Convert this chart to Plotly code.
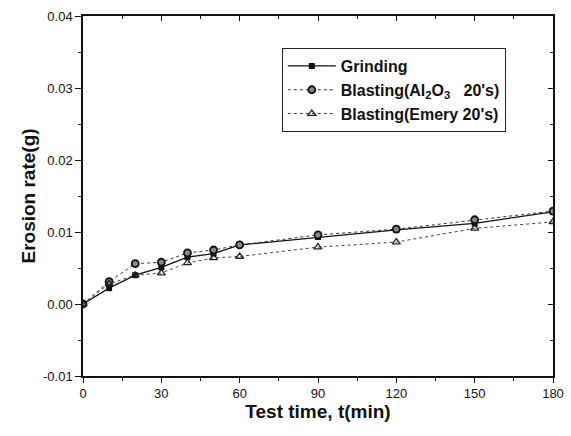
import plotly.graph_objects as go

time_min = [0, 10, 20, 30, 40, 50, 60, 90, 120, 150, 180]
grinding = [0.0, 0.0022, 0.0040, 0.0051, 0.0065, 0.0070, 0.0082, 0.0093, 0.0103, 0.0112, 0.0128]
blasting_al2o3 = [0.0, 0.0031, 0.0056, 0.0058, 0.0071, 0.0075, 0.0082, 0.0096, 0.0104, 0.0117, 0.0129]
blasting_emery = [0.0, 0.0028, 0.0040, 0.0043, 0.0057, 0.0064, 0.0066, 0.0079, 0.0086, 0.0105, 0.0114]

x_ticks = [0, 30, 60, 90, 120, 150, 180]
y_ticks = [-0.01, 0.00, 0.01, 0.02, 0.03, 0.04]
y_labels = ["-0.01", "0.00", "0.01", "0.02", "0.03", "0.04"]

fig = go.Figure()
fig.add_trace(go.Scatter(
    x=time_min, y=grinding, name="Grinding", mode="lines+markers",
    line=dict(color="#111111", width=1.3),
    marker=dict(symbol="square", size=6, color="#111111"),
))
fig.add_trace(go.Scatter(
    x=time_min, y=blasting_al2o3, name="Blasting(Al<sub>2</sub>O<sub>3</sub>   20's)",
    mode="lines+markers",
    line=dict(color="#333333", width=1, dash="dot"),
    marker=dict(symbol="circle", size=7, color="#8a8a8a", line=dict(color="#111111", width=1.8)),
))
fig.add_trace(go.Scatter(
    x=time_min, y=blasting_emery, name="Blasting(Emery 20's)", mode="lines+markers",
    line=dict(color="#444444", width=1, dash="dot"),
    marker=dict(symbol="triangle-up-open", size=7, color="#222222", line=dict(width=1.3)),
))

# invisible trace to carry the mirrored top/right axes
fig.add_trace(go.Scatter(x=[0], y=[0], xaxis="x2", yaxis="y2", mode="markers",
                         marker=dict(opacity=0), showlegend=False, hoverinfo="skip"))

axis_font = dict(family="Liberation Sans, Arial", size=13, color="#111111")
title_font = dict(family="Liberation Sans, Arial", size=19, color="#111111")

fig.update_layout(
    width=571, height=436,
    margin=dict(l=83, r=18, t=16, b=60, autoexpand=False),
    paper_bgcolor="white", plot_bgcolor="white",
    font=axis_font,
    xaxis=dict(
        range=[0, 180], tickvals=x_ticks, showgrid=False, zeroline=False,
        showline=True, linecolor="#111111", linewidth=1.5,
        ticks="outside", ticklen=5, tickwidth=1.2, tickcolor="#111111",
        minor=dict(dtick=15, ticks="outside", ticklen=3, tickcolor="#111111"),
        title=dict(text="<b>Test time, t(min)</b>", font=title_font, standoff=4),
        tickfont=axis_font, automargin=False,
    ),
    yaxis=dict(
        range=[-0.01, 0.04], tickvals=y_ticks, ticktext=y_labels, showgrid=False, zeroline=False,
        showline=True, linecolor="#111111", linewidth=1.5,
        ticks="outside", ticklen=6, tickwidth=1.2, tickcolor="#111111",
        minor=dict(dtick=0.005, ticks="outside", ticklen=3, tickcolor="#111111"),
        title=dict(text="<b>Erosion rate(g)</b>", font=title_font, standoff=2),
        tickfont=axis_font, automargin=False,
    ),
    xaxis2=dict(
        overlaying="x", side="top", range=[0, 180], tickvals=x_ticks, showticklabels=False,
        showgrid=False, zeroline=False, showline=True, linecolor="#111111", linewidth=1.5,
        ticks="inside", ticklen=5, tickcolor="#111111",
        minor=dict(dtick=15, ticks="inside", ticklen=3, tickcolor="#111111"),
    ),
    yaxis2=dict(
        overlaying="y", side="right", anchor="x2", range=[-0.01, 0.04], tickvals=y_ticks,
        showticklabels=False, showgrid=False, zeroline=False, showline=True,
        linecolor="#111111", linewidth=1.5,
        ticks="inside", ticklen=5, tickcolor="#111111",
        minor=dict(dtick=0.005, ticks="inside", ticklen=3, tickcolor="#111111"),
    ),
    legend=dict(
        x=0.423, y=0.911, xanchor="left", yanchor="top",
        bgcolor="white", bordercolor="#222222", borderwidth=1,
        font=dict(family="Liberation Sans, Arial", size=16, color="#111111", weight="bold"),
        tracegroupgap=0, itemwidth=48,
    ),
)

# page body has a default 8px margin; drop it so the figure sits at the window corner
fig.write_html("out.html", config={"displayModeBar": False},
               post_script="document.body.style.margin='0px';")
